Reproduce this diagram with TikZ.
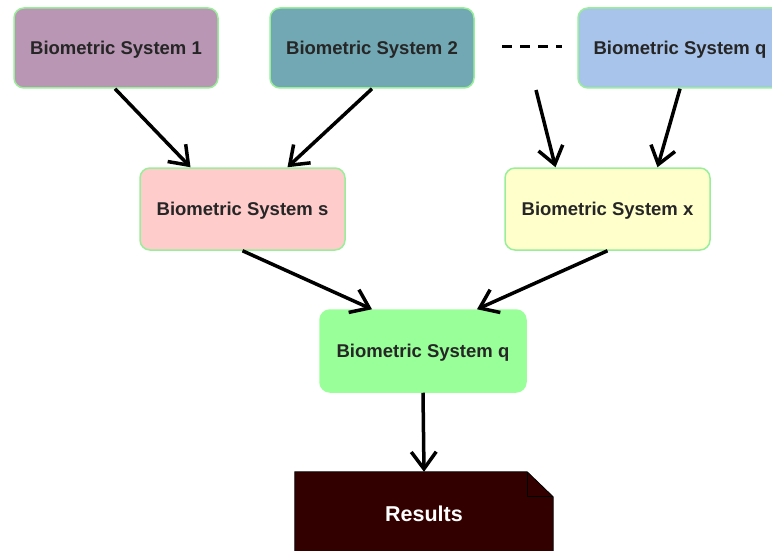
\documentclass[tikz,border=0pt]{standalone}
\usepackage{fontspec}
\setmainfont{Liberation Sans}
\usetikzlibrary{arrows.meta}

\definecolor{mauve}{HTML}{B896B4}
\definecolor{teal2}{HTML}{72A8B4}
\definecolor{skyblue}{HTML}{A9C4EA}
\definecolor{pinkish}{HTML}{FFCCCC}
\definecolor{cream}{HTML}{FFFFCC}
\definecolor{mint}{HTML}{99FF99}
\definecolor{edgegreen}{HTML}{99EE99}
\definecolor{darkred}{HTML}{330000}

\tikzset{
  sysbox/.style={draw=edgegreen, line width=1.5pt, rounded corners=10pt,
    minimum width=204pt, minimum height=80pt, inner sep=0pt, text depth=0pt,
    font=\bfseries\fontsize{18.5}{22}\selectfont, text=black!85},
  flow/.style={line width=3.5pt, -{Straight Barb[length=17pt,width=25pt]}},
  doctext/.style={font=\bfseries\fontsize{21.5}{25}\selectfont, text=white},
}

\begin{document}
\begin{tikzpicture}[x=1pt, y=-1pt]
\useasboundingbox (0,0) rectangle (772,551);

% first row
\node[sysbox, fill=mauve]   (bs1)  at (116,48) {Biometric System 1};
\node[sysbox, fill=teal2]   (bs2)  at (372,48) {Biometric System 2};
\node[sysbox, fill=skyblue] (bsqt) at (680,48) {Biometric System q};
\coordinate (dotsA) at (502,47);
\coordinate (dotsB) at (562,47);
\draw[line width=3pt, dash pattern=on 10pt off 8pt] (dotsA) -- (dotsB);
\coordinate (dotsOut) at (536,90);

% second row
\node[sysbox, minimum width=205pt, minimum height=82pt, fill=pinkish] (bss) at (242.5,209) {Biometric System s};
\node[sysbox, minimum width=205pt, minimum height=82pt, fill=cream]   (bsx) at (607.5,209) {Biometric System x};

% third row
\node[sysbox, minimum width=206pt, minimum height=82pt, fill=mint, draw=mint] (bsqb) at (423,351) {Biometric System q};

% output document with a folded corner
\node[minimum width=258pt, minimum height=84pt, inner sep=0pt] (res) at (424,514) {};
\draw[fill=darkred, draw=black, line width=0.8pt]
  (res.south west) -- (res.north west) -- ([xshift=-26pt]res.north east)
  -- ([yshift=-25pt]res.north east) -- (res.south east);
\draw[black, line width=0.8pt]
  ([xshift=-26pt]res.north east) -- ([xshift=-26pt,yshift=-25pt]res.north east)
  -- ([yshift=-25pt]res.north east);
\node[doctext] (restext) at (res.center) {Results};

% connectors
\draw[flow] ([xshift=-1pt]bs1.south) -- ([xshift=-52pt]bss.north);
\draw[flow] (bs2.south) -- ([xshift=45pt]bss.north);
\draw[flow] (dotsOut) -- ([xshift=-52pt]bsx.north);
\draw[flow] (bsqt.south) -- ([xshift=50pt]bsx.north);
\draw[flow] (bss.south) -- ([xshift=-51pt]bsqb.north);
\draw[flow] (bsx.south) -- ([xshift=54pt]bsqb.north);
\draw[flow] (bsqb.south) -- (res.north);
\end{tikzpicture}
\end{document}
